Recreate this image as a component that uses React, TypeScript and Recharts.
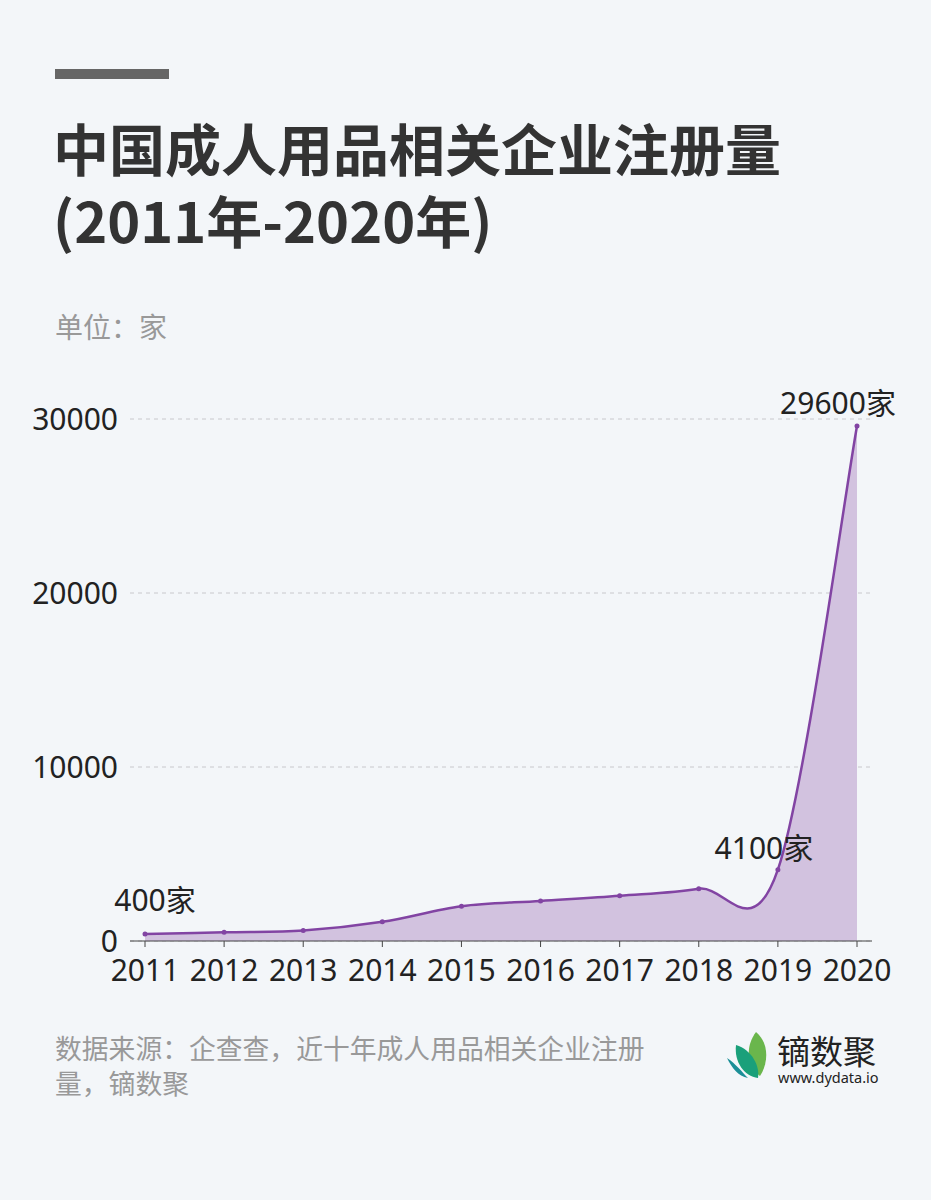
import React from "react";
import { AreaChart, Area, XAxis, YAxis, CartesianGrid, LabelList } from "recharts";

const years = ["2011", "2012", "2013", "2014", "2015", "2016", "2017", "2018", "2019", "2020"];
const counts = [400, 500, 600, 1100, 2000, 2300, 2600, 3000, 4100, 29600];
const yTicks = [0, 10000, 20000, 30000];
// points that carry a value label, with the label nudge [dx, dy]
const labelled: Record<number, [number, number]> = { 0: [10, -23], 8: [-14, -11], 9: [-19, -12] };

const data = years.map((year, i) => ({ year, count: counts[i] }));

const CJK = '"Noto Sans CJK SC", "Noto Sans", sans-serif';
const NUM = '"Noto Sans", "Noto Sans CJK SC", sans-serif';
const BG = "#f3f6f9";
const LINE = "#8244a3";
const FILL = "#d2c2df";

// catmull-rom style smoothing (like the original's smoothed line), as a d3 curve factory
function smoothCurve(context: any) {
  let pts: number[][] = [];
  let line = NaN;
  const k = 1 / 6;
  return {
    areaStart() {
      line = 0;
    },
    areaEnd() {
      line = NaN;
    },
    lineStart() {
      pts = [];
    },
    lineEnd() {
      const n = pts.length;
      if (n > 0) {
        if (line) context.lineTo(pts[0][0], pts[0][1]);
        else context.moveTo(pts[0][0], pts[0][1]);
        for (let i = 0; i < n - 1; i++) {
          const p0 = pts[Math.max(i - 1, 0)];
          const p1 = pts[i];
          const p2 = pts[i + 1];
          const p3 = pts[Math.min(i + 2, n - 1)];
          context.bezierCurveTo(
            p1[0] + k * (p2[0] - p0[0]),
            p1[1] + k * (p2[1] - p0[1]),
            p2[0] - k * (p3[0] - p1[0]),
            p2[1] - k * (p3[1] - p1[1]),
            p2[0],
            p2[1]
          );
        }
      }
      if (line || (line !== 0 && n === 1)) context.closePath();
      line = 1 - line;
    },
    point(x: number, y: number) {
      pts.push([+x, +y]);
    },
  };
}

const PointLabel = (props: any) => {
  const { x, y, value, index } = props;
  const nudge = labelled[index];
  if (!nudge) return null;
  return (
    <text x={x + nudge[0]} y={y + nudge[1]} textAnchor="middle" fontSize={30} fill="#222" fontFamily={NUM}>
      {value}家
    </text>
  );
};

function Logo() {
  return (
    <div style={{ position: "absolute", left: 724, top: 1028, width: 170, height: 56 }}>
      <svg width={50} height={54} style={{ position: "absolute", left: 0, top: 0 }}>
        <path d="M32 4 C46 16 44 36 36 48 C24 40 20 20 32 4 Z" fill="#6ab64c" />
        <path d="M12 17 C28 22 36 38 34 50 C20 48 10 34 12 17 Z" fill="#1aa07a" />
        <path d="M3 30 C8 40 14 48 24 50 C18 44 12 36 3 30 Z" fill="#1b8f97" />
      </svg>
      <div
        style={{
          position: "absolute",
          left: 53,
          top: 6,
          fontSize: 33,
          fontWeight: 400,
          color: "#222",
          lineHeight: "33px",
        }}
      >
        镝数聚
      </div>
      <div
        style={{
          position: "absolute",
          left: 54,
          top: 42,
          fontSize: 14.5,
          color: "#222",
          lineHeight: "15px",
          fontFamily: NUM,
        }}
      >
        www.dydata.io
      </div>
    </div>
  );
}

export default function App() {
  return (
    <div
      style={{
        position: "absolute",
        left: 0,
        top: 0,
        width: 931,
        height: 1200,
        background: BG,
        fontFamily: CJK,
        overflow: "hidden",
      }}
    >
      {/* header */}
      <div style={{ position: "absolute", left: 55, top: 69, width: 114, height: 10, background: "#666" }} />
      <div
        style={{
          position: "absolute",
          left: 53,
          top: 111,
          fontSize: 56,
          fontWeight: 700,
          color: "#333",
          lineHeight: "72px",
        }}
      >
        中国成人用品相关企业注册量
        <br />
        (2011年-2020年)
      </div>
      <div style={{ position: "absolute", left: 55, top: 308, fontSize: 28, color: "#999", lineHeight: "36px" }}>
        单位：家
      </div>

      {/* chart */}
      <div style={{ position: "absolute", left: 0, top: 380 }}>
        <AreaChart width={931} height={620} data={data} margin={{ top: 39, right: 59, bottom: 19, left: 0 }}>
          <CartesianGrid vertical={false} stroke="#c8c8cc" strokeDasharray="4 4" />
          <XAxis
            dataKey="year"
            padding={{ left: 15, right: 15 }}
            height={40}
            stroke="#444"
            tickSize={6}
            tickMargin={13}
            tick={{ fontSize: 30, fill: "#222", fontFamily: NUM }}
            interval={0}
          />
          <YAxis
            domain={[0, 30000]}
            ticks={yTicks}
            width={130}
            axisLine={false}
            tickLine={false}
            tickMargin={6}
            tick={{ fontSize: 30, fill: "#222", fontFamily: NUM }}
          />
          <Area
            type={smoothCurve as any}
            dataKey="count"
            stroke={LINE}
            strokeWidth={2.5}
            fill={FILL}
            fillOpacity={1}
            dot={{ r: 2.5, fill: LINE, stroke: LINE, strokeWidth: 0 }}
            activeDot={false}
            isAnimationActive={false}
          >
            <LabelList dataKey="count" content={<PointLabel />} />
          </Area>
        </AreaChart>
      </div>

      {/* footer */}
      <div
        style={{
          position: "absolute",
          left: 55,
          top: 1030,
          width: 600,
          fontSize: 26.8,
          color: "#999",
          lineHeight: "35px",
        }}
      >
        数据来源：企查查，近十年成人用品相关企业注册量，镝数聚
      </div>
      <Logo />
    </div>
  );
}
